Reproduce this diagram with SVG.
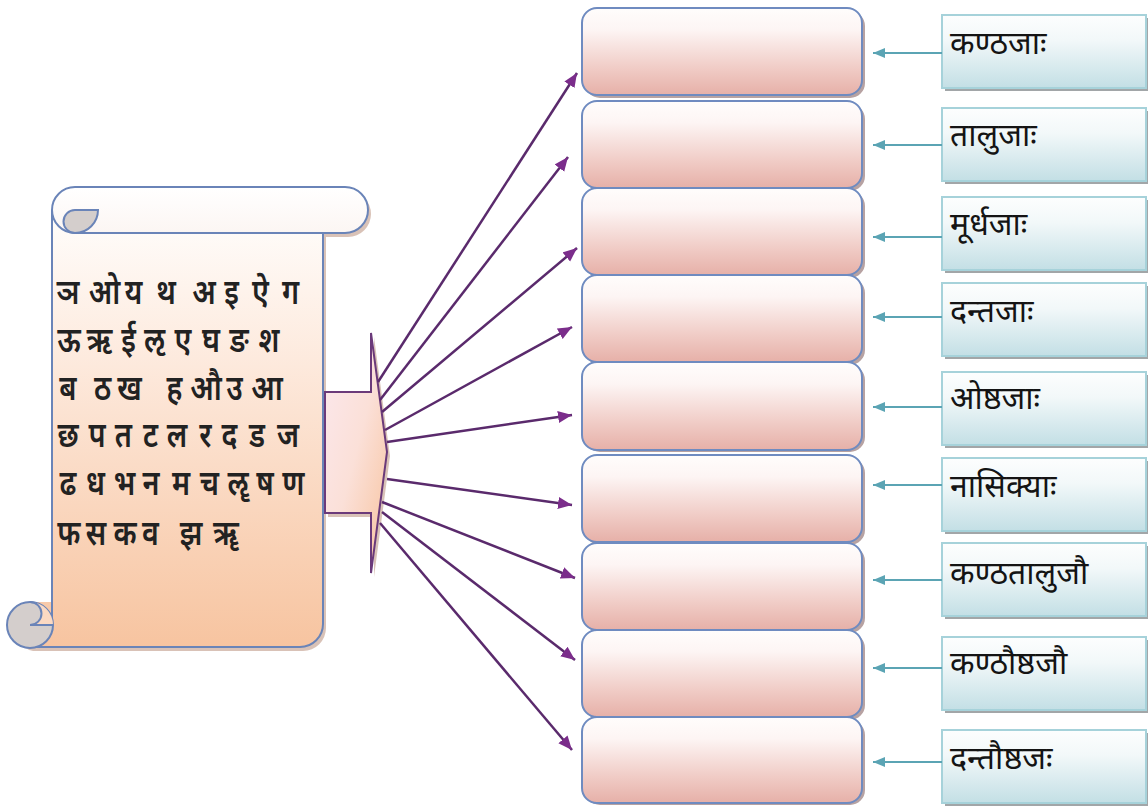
<svg xmlns="http://www.w3.org/2000/svg" width="1148" height="807" viewBox="0 0 1148 807">
<defs>
<linearGradient id="gBody" x1="0" y1="0" x2="0" y2="1">
<stop offset="0" stop-color="#fffdfb"/><stop offset="0.35" stop-color="#fde9dc"/><stop offset="1" stop-color="#f7c4a0"/>
</linearGradient>
<linearGradient id="gRoll" x1="0" y1="0" x2="0" y2="1">
<stop offset="0" stop-color="#ffffff"/><stop offset="1" stop-color="#fcf6f3"/>
</linearGradient>
<linearGradient id="gArrow" x1="0" y1="0" x2="1" y2="1">
<stop offset="0" stop-color="#fbe8ee"/><stop offset="0.5" stop-color="#fbe0d8"/><stop offset="1" stop-color="#f7c29c"/>
</linearGradient>
<linearGradient id="gPink" x1="0" y1="0" x2="0" y2="1">
<stop offset="0" stop-color="#fffdfc"/><stop offset="0.25" stop-color="#fdf5f4"/><stop offset="0.7" stop-color="#f0cbc5"/><stop offset="1" stop-color="#e6b0a8"/>
</linearGradient>
<linearGradient id="gBlue" x1="0" y1="0" x2="0" y2="1">
<stop offset="0" stop-color="#fdfefe"/><stop offset="0.35" stop-color="#f2f8f9"/><stop offset="1" stop-color="#c3dfe5"/>
</linearGradient>
<marker id="mPurple" markerUnits="userSpaceOnUse" markerWidth="16" markerHeight="14" refX="14" refY="6" orient="auto">
<path d="M0,0 L14,6 L0,12 Z" fill="#7b2d8b"/>
</marker>
<marker id="mTeal" markerUnits="userSpaceOnUse" markerWidth="14" markerHeight="12" refX="12" refY="5" orient="auto">
<path d="M0,0 L12,5 L0,10 Z" fill="#5ba4b4"/>
</marker>
</defs>
<style>
.scroll{stroke:#6a84b8;stroke-width:2;}
.grey{fill:#d4cecc;}
.sh{fill:#b98f7c;opacity:0.55;}
.pink{fill:url(#gPink);stroke:#6f8bc0;stroke-width:2;}
.pinksh{fill:#b7a2a2;}
.blue{fill:url(#gBlue);stroke:#a6d2da;stroke-width:2;}
.bluesh{fill:#a2a6a8;}
.lbl{font-family:"Noto Sans Devanagari","Noto Sans","Lohit Devanagari","Mangal",sans-serif;font-size:32px;fill:#141414;}
.let{font-family:"Noto Sans Devanagari","Noto Sans","Lohit Devanagari","Mangal",sans-serif;font-size:35px;font-weight:600;fill:#222222;text-anchor:middle;}
.pa{stroke:#5a2a6c;stroke-width:2.5;fill:none;marker-end:url(#mPurple);}
.ta{stroke:#5ba4b4;stroke-width:2;fill:none;marker-end:url(#mTeal);}
</style>

<g id="scroll">
<g transform="translate(3,4)">
<path class="sh" d="M75,187 L345,187 A23,23 0 0 1 345,233 L323,233 L323,624 A23,23 0 0 1 300,647 L30,647 A23,23 0 0 1 30,602 L52,602 L52,210 A23,23 0 0 1 75,187 Z"/>
</g>
<path d="M52,215 L323,215 L323,624 A23,23 0 0 1 300,647 L30,647 L30,602 L52,602 Z" fill="url(#gBody)"/>
<path class="scroll" fill="none" d="M52,210 L52,625 M323,233 L323,624 A23,23 0 0 1 300,647 L30,647"/>
<circle class="scroll grey" cx="30" cy="625" r="23"/>
<path d="M30,602 A23,23 0 0 1 53,625 L30,625 A11.5,11.5 0 0 0 30,602 Z" fill="#fbd9c2"/>
<path class="scroll" fill="none" d="M30,602 A11.5,11.5 0 0 1 30,625 L53,625"/>
<path class="scroll" fill="url(#gRoll)" d="M75,187 L345,187 A23,23 0 0 1 345,233 L75,233 A23,23 0 0 1 75,187 Z"/>
<path class="scroll grey" d="M98,210 A23,23 0 0 1 75,233 A11.5,11.5 0 0 1 75,210 Z"/>
<g transform="scale(0.82,1)">
<text class="let" y="304" x="82.9 127.4 162.8 202.4 248.8 282.3 317.7 354.3">ञओयथअइऐग</text>
<text class="let" y="352" x="84.1 121.3 156.7 188.4 223.2 257.3 291.5 328.0">ऊऋईऌएघङश</text>
<text class="let" y="400" x="82.9 125.0 157.9 212.8 251.2 286.0 325.6">बठखहऔउआ</text>
<text class="let" y="447" x="82.9 118.3 150.6 183.5 215.9 250.6 279.9 313.4 351.2">छपतटलरदडज</text>
<text class="let" y="495" x="82.9 116.5 151.8 184.1 220.7 255.5 290.2 323.2 357.9">ढधभनमचॡषण</text>
<text class="let" y="545" x="84.1 117.1 152.4 183.5 232.9 275.6">फसकवझॠ</text>
</g>
</g>

<g id="block-arrow">
<path class="sh" transform="translate(3,4)" d="M325,392 L371,392 L371,333 L387,452 L371,573 L371,513 L325,513 Z"/>
<path d="M325,392 L371,392 L371,333 L387,452 L371,573 L371,513 L325,513 Z" fill="url(#gArrow)" stroke="#6b3a7a" stroke-width="2"/>
</g>

<g id="pink-boxes">
<g id="p1"><rect class="pinksh" x="585" y="11" width="280" height="87" rx="15"/><rect class="pink" x="582" y="8" width="280" height="87" rx="15"/></g>
<g id="p2"><rect class="pinksh" x="585" y="104" width="280" height="87" rx="15"/><rect class="pink" x="582" y="101" width="280" height="87" rx="15"/></g>
<g id="p3"><rect class="pinksh" x="585" y="191" width="280" height="87" rx="15"/><rect class="pink" x="582" y="188" width="280" height="87" rx="15"/></g>
<g id="p4"><rect class="pinksh" x="585" y="278" width="280" height="87" rx="15"/><rect class="pink" x="582" y="275" width="280" height="87" rx="15"/></g>
<g id="p5"><rect class="pinksh" x="585" y="365" width="280" height="87" rx="15"/><rect class="pink" x="582" y="362" width="280" height="88" rx="15"/></g>
<g id="p6"><rect class="pinksh" x="585" y="458" width="280" height="87" rx="15"/><rect class="pink" x="582" y="455" width="280" height="87" rx="15"/></g>
<g id="p7"><rect class="pinksh" x="585" y="546" width="280" height="87" rx="15"/><rect class="pink" x="582" y="543" width="280" height="87" rx="15"/></g>
<g id="p8"><rect class="pinksh" x="585" y="633" width="280" height="87" rx="15"/><rect class="pink" x="582" y="630" width="280" height="87" rx="15"/></g>
<g id="p9"><rect class="pinksh" x="585" y="720" width="280" height="85" rx="15"/><rect class="pink" x="582" y="717" width="280" height="86" rx="15"/></g>
</g>

<g id="label-boxes">
<g id="l1"><rect class="bluesh" x="945" y="18" width="204" height="73"/><rect class="blue" x="942" y="15" width="204" height="73"/><text class="lbl" x="950" y="54">कण्ठजाः</text></g>
<g id="l2"><rect class="bluesh" x="945" y="111" width="204" height="73"/><rect class="blue" x="942" y="108" width="204" height="73"/><text class="lbl" x="950" y="146">तालुजाः</text></g>
<g id="l3"><rect class="bluesh" x="945" y="200" width="204" height="73"/><rect class="blue" x="942" y="197" width="204" height="73"/><text class="lbl" x="950" y="235">मूर्धजाः</text></g>
<g id="l4"><rect class="bluesh" x="945" y="286" width="204" height="73"/><rect class="blue" x="942" y="283" width="204" height="73"/><text class="lbl" x="950" y="322">दन्तजाः</text></g>
<g id="l5"><rect class="bluesh" x="945" y="375" width="204" height="73"/><rect class="blue" x="942" y="372" width="204" height="73"/><text class="lbl" x="950" y="409">ओष्ठजाः</text></g>
<g id="l6"><rect class="bluesh" x="945" y="461" width="204" height="73"/><rect class="blue" x="942" y="458" width="204" height="73"/><text class="lbl" x="950" y="497">नासिक्याः</text></g>
<g id="l7"><rect class="bluesh" x="945" y="546" width="204" height="73"/><rect class="blue" x="942" y="543" width="204" height="73"/><text class="lbl" x="950" y="584">कण्ठतालुजौ</text></g>
<g id="l8"><rect class="bluesh" x="945" y="640" width="204" height="73"/><rect class="blue" x="942" y="637" width="204" height="73"/><text class="lbl" x="950" y="674">कण्ठौष्ठजौ</text></g>
<g id="l9"><rect class="bluesh" x="945" y="733" width="204" height="73"/><rect class="blue" x="942" y="730" width="204" height="73"/><text class="lbl" x="950" y="769">दन्तौष्ठजः</text></g>
</g>

<g id="connectors">
<line class="pa" x1="378" y1="382" x2="577" y2="73"/>
<line class="pa" x1="380" y1="400" x2="568" y2="157"/>
<line class="pa" x1="382" y1="412" x2="577" y2="248"/>
<line class="pa" x1="385" y1="430" x2="572" y2="327"/>
<line class="pa" x1="387" y1="442" x2="572" y2="415"/>
<line class="pa" x1="387" y1="479" x2="572" y2="505"/>
<line class="pa" x1="382" y1="502" x2="575" y2="578"/>
<line class="pa" x1="382" y1="512" x2="575" y2="660"/>
<line class="pa" x1="380" y1="523" x2="572" y2="750"/>
<line class="ta" x1="942" y1="53" x2="873" y2="53"/>
<line class="ta" x1="942" y1="145" x2="873" y2="145"/>
<line class="ta" x1="942" y1="237" x2="873" y2="237"/>
<line class="ta" x1="942" y1="317" x2="873" y2="317"/>
<line class="ta" x1="942" y1="407" x2="873" y2="407"/>
<line class="ta" x1="942" y1="485" x2="873" y2="485"/>
<line class="ta" x1="942" y1="580" x2="873" y2="580"/>
<line class="ta" x1="942" y1="668" x2="873" y2="668"/>
<line class="ta" x1="942" y1="762" x2="873" y2="762"/>
</g>
</svg>
